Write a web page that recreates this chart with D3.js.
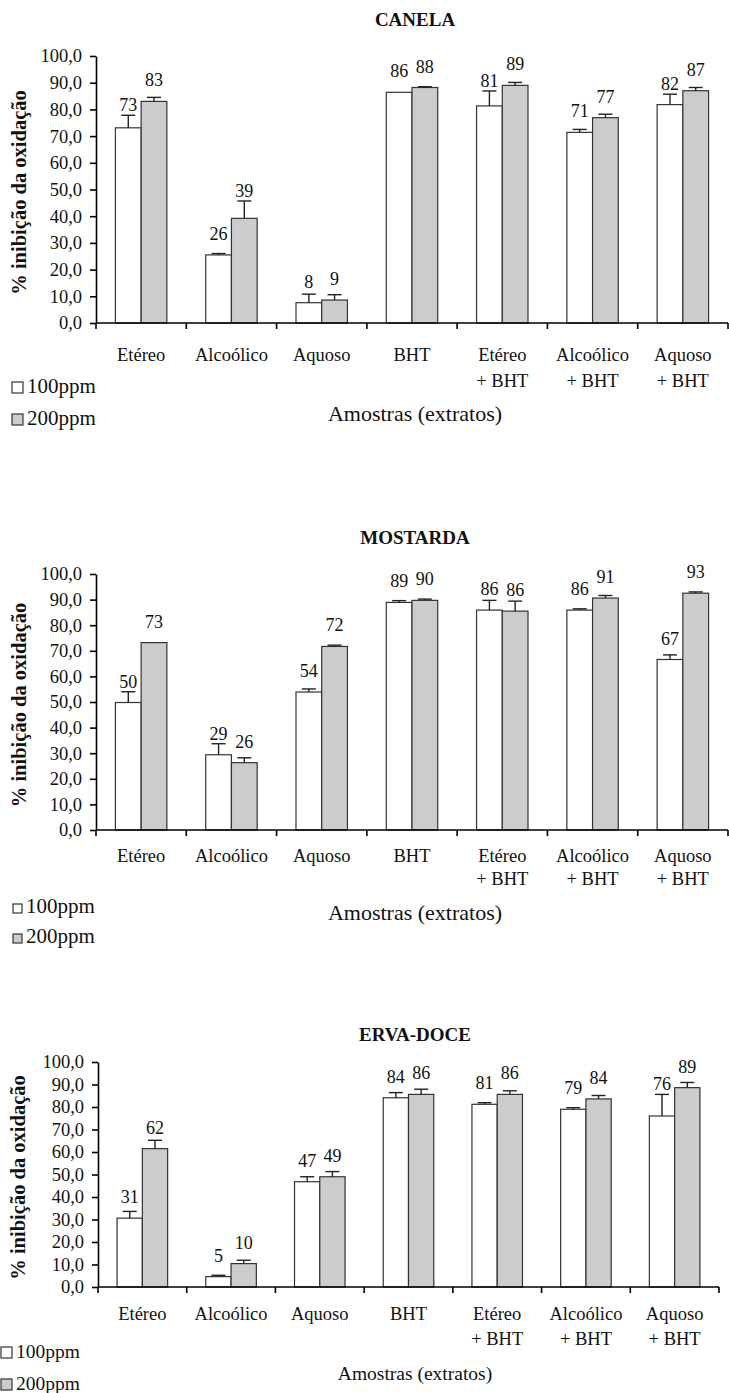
<!DOCTYPE html>
<html>
<head>
<meta charset="utf-8">
<script src="https://cdn.jsdelivr.net/npm/d3@7"></script>
<style>
  body { margin: 0; background: #fff; }
</style>
</head>
<body>
<div id="chart"></div>
<script>
// categories (2-line labels) and series
var categories = [["Etéreo"], ["Alcoólico"], ["Aquoso"], ["BHT"],
                  ["Etéreo", "+ BHT"], ["Alcoólico", "+ BHT"], ["Aquoso", "+ BHT"]];
var series = ["100ppm", "200ppm"];
var yTicks = [0, 10, 20, 30, 40, 50, 60, 70, 80, 90, 100];
var titles = ["CANELA", "MOSTARDA", "ERVA-DOCE"];

// values (% inibição) and upper error
var canela100 = [73.1, 25.5, 7.6, 86.4, 81.3, 71.4, 81.8];
var canela200 = [83.0, 39.2, 8.6, 88.2, 89.0, 76.9, 87.0];
var canelaErr100 = [4.7, 0.5, 3.2, 0.0, 5.6, 1.1, 3.9];
var canelaErr200 = [1.5, 6.5, 2.0, 0.3, 1.1, 1.3, 1.2];

var mostarda100 = [49.8, 29.4, 53.9, 88.9, 85.9, 85.9, 66.6];
var mostarda200 = [73.2, 26.3, 71.7, 89.7, 85.5, 90.6, 92.5];
var mostardaErr100 = [4.2, 4.3, 1.2, 0.7, 3.8, 0.5, 1.8];
var mostardaErr200 = [0.0, 1.9, 0.5, 0.5, 3.9, 1.0, 0.5];

var erva100 = [30.6, 4.6, 46.8, 84.1, 81.2, 79.0, 76.0];
var erva200 = [61.5, 10.4, 49.0, 85.6, 85.6, 83.6, 88.6];
var ervaErr100 = [3.0, 0.6, 2.2, 2.3, 0.7, 0.7, 9.6];
var ervaErr200 = [3.7, 1.5, 2.3, 2.3, 1.6, 1.5, 2.3];

var values = [[canela100, canela200], [mostarda100, mostarda200], [erva100, erva200]];
var errors = [[canelaErr100, canelaErr200], [mostardaErr100, mostardaErr200], [ervaErr100, ervaErr200]];

// layout of each panel
var layouts = [
  {title: 26,   top: 56,   bottom: 323,  left: 96, right: 728, lab1: 361,  lab2: 387,  ylabX: 26, legX: 12, leg1: 393,  leg2: 425,  sq: 11, legSize: 21,   xt: 421,  xtSize: 22},
  {title: 544,  top: 574,  bottom: 830,  left: 96, right: 728, lab1: 862,  lab2: 885,  ylabX: 26, legX: 13, leg1: 913,  leg2: 943,  sq: 9,  legSize: 21,   xt: 920,  xtSize: 22},
  {title: 1041, top: 1062, bottom: 1287, left: 98, right: 719, lab1: 1320, lab2: 1345, ylabX: 25, legX: 1,  leg1: 1358, leg2: 1390, sq: 11, legSize: 19.5, xt: 1380, xtSize: 19.5}
];

var colors = ["#ffffff", "#cccccc"];
var font = "Liberation Serif";
var W = 729, H = 1393;

var svg = d3.select("#chart").append("svg")
    .attr("width", W).attr("height", H)
    .attr("viewBox", [0, 0, W, H]);

var fmt = d => d3.format(".1f")(d).replace(".", ",");

layouts.forEach((L, p) => {
    var g = svg.append("g");

    var x = d3.scaleBand()
        .domain(d3.range(categories.length))
        .range([L.left, L.right])
        .padding(0);
    var xs = d3.scaleBand()
        .domain(series)
        .range([0, x.bandwidth()])
        .paddingInner(0)
        .paddingOuter(0.755);
    var y = d3.scaleLinear()
        .domain([0, 100])
        .range([L.bottom, L.top]);

    // title
    g.append("text")
        .attr("x", 415).attr("y", L.title)
        .attr("text-anchor", "middle")
        .attr("font-size", 19).attr("font-weight", "bold")
        .text(titles[p]);

    // bars
    series.forEach((s, si) => {
        var vals = values[p][si], errs = errors[p][si];
        var bg = g.append("g");
        var bw = xs.bandwidth();
        var rows = vals.map((d, i) => ({v: d, e: errs[i], i: i}));

        bg.selectAll("rect")
            .data(rows)
            .join("rect")
            .attr("x", d => x(d.i) + xs(s))
            .attr("y", d => y(d.v))
            .attr("width", bw)
            .attr("height", d => y(0) - y(d.v))
            .attr("fill", colors[si])
            .attr("stroke", "#333")
            .attr("stroke-width", 1.2);

        // error bars (upper only)
        var eb = bg.selectAll("g.err")
            .data(rows.filter(d => d.e > 0))
            .join("g").attr("class", "err");
        eb.append("line")
            .attr("x1", d => x(d.i) + xs(s) + bw / 2)
            .attr("x2", d => x(d.i) + xs(s) + bw / 2)
            .attr("y1", d => y(d.v))
            .attr("y2", d => y(d.v + d.e))
            .attr("stroke", "#222").attr("stroke-width", 1.4);
        eb.append("line")
            .attr("x1", d => x(d.i) + xs(s) + bw / 2 - 7)
            .attr("x2", d => x(d.i) + xs(s) + bw / 2 + 7)
            .attr("y1", d => y(d.v + d.e))
            .attr("y2", d => y(d.v + d.e))
            .attr("stroke", "#222").attr("stroke-width", 1.4);

        // data labels, lifted clear of the error bar
        bg.selectAll("text.val")
            .data(rows)
            .join("text").attr("class", "val")
            .attr("x", d => x(d.i) + xs(s) + bw / 2)
            .attr("y", d => Math.min(y(d.v) - 21, y(d.v + d.e) - 10) + 6)
            .attr("text-anchor", "middle")
            .attr("font-size", 18)
            .text(d => Math.round(d.v));
    });

    // y axis
    g.append("g")
        .attr("transform", `translate(${L.left},0)`)
        .call(d3.axisLeft(y).tickValues(yTicks).tickSize(6).tickSizeOuter(0).tickPadding(8).tickFormat(fmt))
        .attr("font-family", font).attr("font-size", 18.5)
        .call(a => a.selectAll("line, path").attr("stroke", "#000").attr("stroke-width", 1.6));

    // x axis line and boundary ticks
    var xa = g.append("g");
    xa.append("line")
        .attr("x1", L.left).attr("x2", L.right)
        .attr("y1", y(0)).attr("y2", y(0))
        .attr("stroke", "#000").attr("stroke-width", 1.6);
    xa.selectAll("line.tick")
        .data(d3.range(categories.length + 1))
        .join("line").attr("class", "tick")
        .attr("x1", i => i < categories.length ? x(i) : L.right)
        .attr("x2", i => i < categories.length ? x(i) : L.right)
        .attr("y1", y(0)).attr("y2", y(0) + 6)
        .attr("stroke", "#000").attr("stroke-width", 1.6);

    // category labels
    var cl = g.append("g").attr("font-size", 18.5).attr("text-anchor", "middle");
    categories.forEach((c, i) => {
        c.forEach((line, li) => {
            cl.append("text")
                .attr("x", x(i) + x.bandwidth() / 2)
                .attr("y", li === 0 ? L.lab1 : L.lab2)
                .text(line);
        });
    });

    // y axis title
    g.append("text")
        .attr("transform", `translate(${L.ylabX},${(L.top + L.bottom) / 2 + 3}) rotate(-90)`)
        .attr("text-anchor", "middle")
        .attr("font-size", 20.5).attr("font-weight", "bold")
        .text("% inibição da oxidação");

    // x axis title
    g.append("text")
        .attr("x", 415).attr("y", L.xt)
        .attr("text-anchor", "middle")
        .attr("font-size", L.xtSize)
        .text("Amostras (extratos)");

    // legend
    series.forEach((s, si) => {
        var ly = si === 0 ? L.leg1 : L.leg2;
        g.append("rect")
            .attr("x", L.legX).attr("y", ly - L.sq)
            .attr("width", L.sq).attr("height", L.sq)
            .attr("fill", colors[si]).attr("stroke", "#333").attr("stroke-width", 1.2);
        g.append("text")
            .attr("x", L.legX + L.sq + 4).attr("y", ly)
            .attr("font-size", L.legSize)
            .text(s);
    });
});

svg.attr("font-family", font);
svg.selectAll("text").attr("font-family", font).attr("fill", "#111");
</script>
</body>
</html>
